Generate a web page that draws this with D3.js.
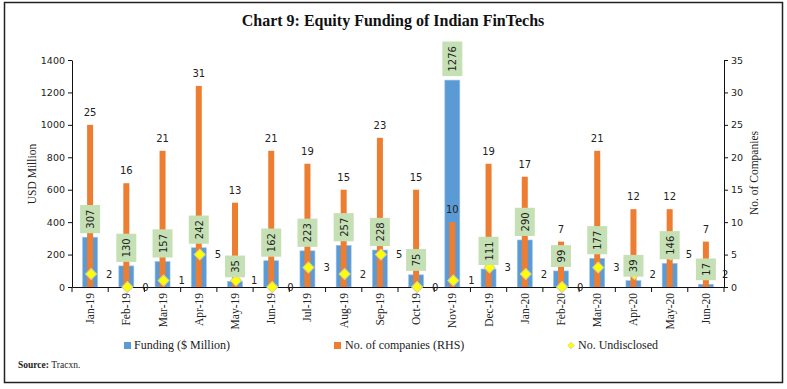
<!DOCTYPE html>
<html>
<head>
<meta charset="utf-8">
<script src="https://cdn.jsdelivr.net/npm/d3@7"></script>
<style>
  body { margin: 0; background: #fff; }
  svg { display: block; }
</style>
</head>
<body>
<svg id="chart" width="787" height="389"></svg>
<script>
const months = ['Jan-19','Feb-19','Mar-19','Apr-19','May-19','Jun-19','Jul-19','Aug-19','Sep-19','Oct-19','Nov-19','Dec-19',
                'Jan-20','Feb-20','Mar-20','Apr-20','May-20','Jun-20'];
const funding = [307,130,157,242,35,162,223,257,228,75,1276,111,290,99,177,39,146,17];
const companies = [25,16,21,31,13,21,19,15,23,15,10,19,17,7,21,12,12,7];
const undisclosed = [2,0,1,5,1,0,3,2,5,0,1,3,2,0,3,2,5,2];
const leftTicks = [0,200,400,600,800,1000,1200,1400];
const rightTicks = [0,5,10,15,20,25,30,35];

const blue = '#5b9bd5', orange = '#ed7d31', yellow = '#ffff00', green = '#c5e0b4';
const serif = '"Liberation Serif", "DejaVu Serif", serif';
const sans = '"DejaVu Sans", Verdana, sans-serif';

const svg = d3.select('#chart');
const plotLeft = 72, plotRight = 724, plotTop = 60, plotBottom = 287;

// frame
svg.append('rect').attr('x', 4.5).attr('y', 2.5).attr('width', 778).attr('height', 380)
   .attr('fill', 'none').attr('stroke', '#222').attr('stroke-width', 1.5);

svg.append('text').attr('x', 393).attr('y', 26).attr('text-anchor', 'middle')
   .style('font-family', serif).style('font-size', '16px').style('font-weight', 'bold')
   .attr('fill', '#111').text('Chart 9: Equity Funding of Indian FinTechs');

const x = d3.scaleBand().domain(months).range([plotLeft, plotRight]).padding(0);
const yL = d3.scaleLinear().domain([0, 1400]).range([plotBottom, plotTop]);
const yR = d3.scaleLinear().domain([0, 35]).range([plotBottom, plotTop]);
const cx = d => x(d) + x.bandwidth() / 2;

// funding bars
svg.append('g').selectAll('rect').data(months).enter().append('rect')
   .attr('x', d => cx(d) - 7.5)
   .attr('width', 15)
   .attr('y', (d, i) => yL(funding[i]))
   .attr('height', (d, i) => plotBottom - yL(funding[i]))
   .attr('fill', blue).attr('stroke', '#9dc3e6').attr('stroke-width', 0.6);

// company bars
svg.append('g').selectAll('rect').data(months).enter().append('rect')
   .attr('x', d => cx(d) - 3)
   .attr('width', 6)
   .attr('y', (d, i) => yR(companies[i]))
   .attr('height', (d, i) => plotBottom - yR(companies[i]))
   .attr('fill', orange);

// company labels
svg.append('g').selectAll('text').data(months).enter().append('text')
   .attr('x', d => cx(d))
   .attr('y', (d, i) => yR(companies[i]) - 9)
   .attr('text-anchor', 'middle')
   .style('font-family', sans).style('font-size', '10px').attr('fill', '#222')
   .text((d, i) => companies[i]);

// axes
const gL = svg.append('g').attr('transform', `translate(${plotLeft},0)`)
   .call(d3.axisLeft(yL).tickValues(leftTicks).tickFormat(d3.format('d')).tickSize(4).tickSizeOuter(0));
const gR = svg.append('g').attr('transform', `translate(${plotRight},0)`)
   .call(d3.axisRight(yR).tickValues(rightTicks).tickSize(4).tickSizeOuter(0));
[gL, gR].forEach(g => {
  g.selectAll('text').style('font-family', sans).style('font-size', '9.5px').attr('fill', '#222');
  g.selectAll('line,path').attr('stroke', '#111');
});

const gX = svg.append('g').attr('transform', `translate(0,${plotBottom})`)
   .call(d3.axisBottom(x).tickSize(0).tickSizeOuter(0));
gX.select('path').attr('stroke', '#111');
gX.selectAll('text')
   .attr('transform', 'rotate(-90)')
   .attr('x', -6).attr('y', 0).attr('dy', '0.35em')
   .attr('text-anchor', 'end')
   .style('font-family', serif).style('font-size', '11.5px').attr('fill', '#222');
gX.selectAll('.bound').data(d3.range(months.length + 1)).enter().append('line')
   .attr('x1', i => plotLeft + i * x.bandwidth()).attr('x2', i => plotLeft + i * x.bandwidth())
   .attr('y1', 0).attr('y2', 5).attr('stroke', '#111');

// undisclosed diamonds
svg.append('g').selectAll('path').data(months).enter().append('path')
   .attr('d', d3.symbol().type(d3.symbolSquare).size(60))
   .attr('transform', (d, i) => `translate(${cx(d) + 1},${yR(undisclosed[i])}) rotate(45)`)
   .attr('fill', yellow).attr('stroke', '#d8d49a').attr('stroke-width', 1);

svg.append('g').selectAll('text').data(months).enter().append('text')
   .attr('x', d => cx(d) + 16)
   .attr('y', (d, i) => yR(undisclosed[i]))
   .attr('dy', '0.35em')
   .style('font-family', sans).style('font-size', '10px').attr('fill', '#222')
   .text((d, i) => undisclosed[i]);

// funding value boxes
const boxes = svg.append('g').selectAll('g').data(months).enter().append('g');
boxes.each(function(d, i) {
  const g = d3.select(this);
  const barTop = yL(funding[i]);
  const label = String(funding[i]);
  const h = label.length * 6.4 + 9;
  g.append('rect').attr('x', cx(d) - 10).attr('width', 20)
    .attr('y', barTop - 4 - h).attr('height', h).attr('fill', green);
  g.append('text')
    .attr('transform', `translate(${cx(d) + 0.5},${barTop - 4 - h / 2}) rotate(-90)`)
    .attr('text-anchor', 'middle').attr('dy', '0.35em')
    .style('font-family', sans).style('font-size', '10px').attr('fill', '#222')
    .text(label);
});

// axis titles
svg.append('text').attr('transform', 'translate(36,174) rotate(-90)').attr('text-anchor', 'middle')
   .style('font-family', serif).style('font-size', '11.5px').attr('fill', '#222').text('USD Million');
svg.append('text').attr('transform', 'translate(758,173) rotate(-90)').attr('text-anchor', 'middle')
   .style('font-family', serif).style('font-size', '11.5px').attr('fill', '#222').text('No. of Companies');

// legend
const legend = svg.append('g').style('font-family', serif).style('font-size', '12px').attr('fill', '#222');
legend.append('rect').attr('x', 124).attr('y', 342).attr('width', 7).attr('height', 7).attr('fill', blue);
legend.append('text').attr('x', 134).attr('y', 349).text('Funding ($ Million)');
legend.append('rect').attr('x', 334).attr('y', 342).attr('width', 7).attr('height', 7).attr('fill', orange);
legend.append('text').attr('x', 345).attr('y', 349).text('No. of companies (RHS)');
legend.append('path').attr('d', d3.symbol().type(d3.symbolSquare).size(22))
   .attr('transform', 'translate(571,345.5) rotate(45)')
   .attr('fill', yellow).attr('stroke', '#d8d49a').attr('stroke-width', 0.8);
legend.append('text').attr('x', 578).attr('y', 349).text('No. Undisclosed');

// source
const src = svg.append('text').attr('x', 18).attr('y', 368)
   .style('font-family', serif).style('font-size', '9.5px').attr('fill', '#222');
src.append('tspan').style('font-weight', 'bold').text('Source: ');
src.append('tspan').text('Tracxn.');
</script>
</body>
</html>
